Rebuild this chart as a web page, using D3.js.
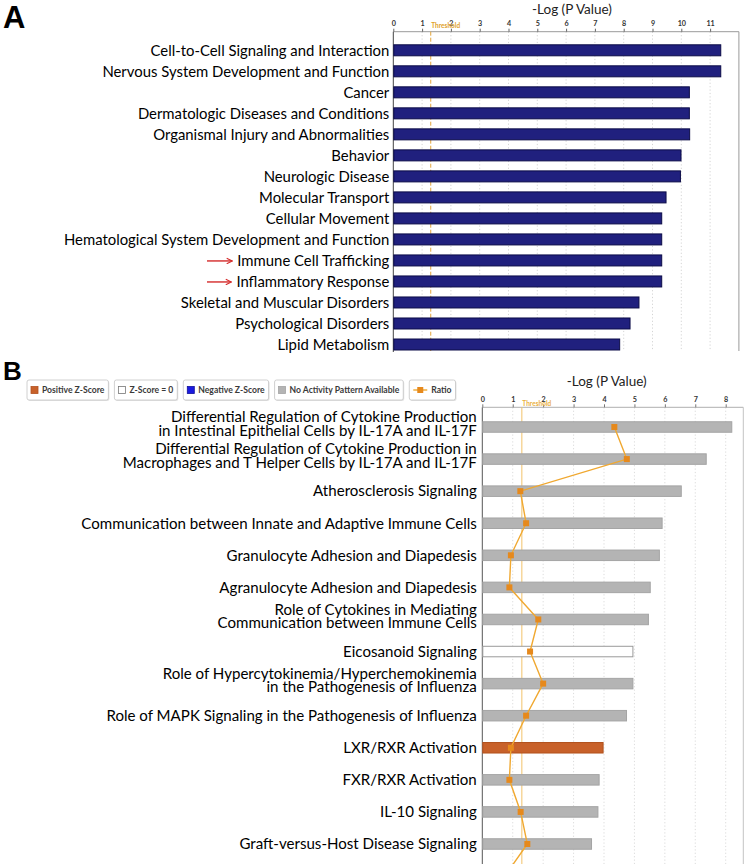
<!DOCTYPE html>
<html><head><meta charset="utf-8">
<script src="https://cdn.jsdelivr.net/npm/d3@7"></script>
<style>body{margin:0;background:#fff}svg{display:block}</style>
</head><body>
<svg id="c" width="747" height="864"></svg>
<script>
// ---------- DATA ----------
const catsA = [
  "Cell-to-Cell Signaling and Interaction",
  "Nervous System Development and Function",
  "Cancer",
  "Dermatologic Diseases and Conditions",
  "Organismal Injury and Abnormalities",
  "Behavior",
  "Neurologic Disease",
  "Molecular Transport",
  "Cellular Movement",
  "Hematological System Development and Function",
  "Immune Cell Trafficking",
  "Inflammatory Response",
  "Skeletal and Muscular Disorders",
  "Psychological Disorders",
  "Lipid Metabolism"
];
const valsA = [11.37, 11.37, 10.28, 10.28, 10.29, 9.99, 9.97, 9.47, 9.32, 9.32, 9.32, 9.32, 8.53, 8.22, 7.86];
const highlightA = ["Immune Cell Trafficking", "Inflammatory Response"];
const ticksA = [0,1,2,3,4,5,6,7,8,9,10,11];

const catsB = [
  ["Differential Regulation of Cytokine Production", "in Intestinal Epithelial Cells by IL-17A and IL-17F"],
  ["Differential Regulation of Cytokine Production in", "Macrophages and T Helper Cells by IL-17A and IL-17F"],
  ["Atherosclerosis Signaling"],
  ["Communication between Innate and Adaptive Immune Cells"],
  ["Granulocyte Adhesion and Diapedesis"],
  ["Agranulocyte Adhesion and Diapedesis"],
  ["Role of Cytokines in Mediating", "Communication between Immune Cells"],
  ["Eicosanoid Signaling"],
  ["Role of Hypercytokinemia/Hyperchemokinemia", "in the Pathogenesis of Influenza"],
  ["Role of MAPK Signaling in the Pathogenesis of Influenza"],
  ["LXR/RXR Activation"],
  ["FXR/RXR Activation"],
  ["IL-10 Signaling"],
  ["Graft-versus-Host Disease Signaling"]
];
const valsB = [8.2, 7.36, 6.54, 5.91, 5.82, 5.52, 5.46, 4.95, 4.95, 4.74, 3.97, 3.84, 3.80, 3.59];
const zB = ["na","na","na","na","na","na","na","zero","na","na","pos","na","na","na"];
// ratio markers, read in units of the -log(p) axis (last one lies below the visible frame)
const ratioB = [4.34, 4.75, 1.25, 1.44, 0.94, 0.89, 1.84, 1.57, 2.0, 1.44, 0.94, 0.89, 1.26, 1.48, 0.74];
const ticksB = [0,1,2,3,4,5,6,7,8];
const threshold = 1.3;
const legendLabels = ["Positive Z-Score", "Z-Score = 0", "Negative Z-Score", "No Activity Pattern Available", "Ratio"];
const legendKinds = ["pos", "zero", "neg", "na", "ratio"];

// ---------- STYLE ----------
const FONT = "Lato, 'Open Sans', sans-serif";
const zFill = {pos:"#c8612a", zero:"#ffffff", neg:"#1a1ae0", na:"#b4b4b4"};
const zStroke = {pos:"#b2521e", zero:"#9a9a9a", neg:"#10109a", na:"#a4a4a4"};

const svg = d3.select("#c");
svg.append("rect").attr("width",747).attr("height",864).attr("fill","#fff");

function fitSize(text, target, weight){
  const t = svg.append("text").attr("font-family",FONT).attr("font-size",20).attr("font-weight",weight||400).text(text);
  const w = t.node().getComputedTextLength(); t.remove();
  return 20*target/w;
}

// panel letters
svg.append("text").attr("x",3).attr("y",28).attr("font-family","'Liberation Sans', Arial, sans-serif")
  .attr("font-weight",700).attr("font-size",31).text("A");
svg.append("text").attr("x",3).attr("y",380).attr("font-family","'Liberation Sans', Arial, sans-serif")
  .attr("font-weight",700).attr("font-size",26).text("B");

// ================= PANEL A =================
const xA = d3.scaleLinear().domain([0,12]).range([393.3,738.9]);
const yA = d3.scalePoint().domain(catsA).range([50.3,344.5]);
const topA = 31.7, botA = 351;
const gA = svg.append("g");

gA.selectAll(".gr").data(ticksA.slice(1)).join("line")
  .attr("x1",d=>xA(d)).attr("x2",d=>xA(d)).attr("y1",topA).attr("y2",botA)
  .attr("stroke","#c9c9c9").attr("stroke-width",0.8).attr("stroke-dasharray","1.2,2.2");
gA.append("line").attr("x1",xA(0)).attr("x2",xA(12)).attr("y1",topA).attr("y2",topA).attr("stroke","#9a9a9a");
gA.append("line").attr("x1",xA(12)).attr("x2",xA(12)).attr("y1",topA).attr("y2",botA).attr("stroke","#9a9a9a");
gA.append("line").attr("x1",xA(0)).attr("x2",xA(0)).attr("y1",topA).attr("y2",botA+1).attr("stroke","#444");
const axA = gA.append("g").attr("transform",`translate(0,${topA})`)
  .call(d3.axisTop(xA).tickValues(ticksA).tickSize(3).tickPadding(3));
axA.select(".domain").remove();
axA.selectAll(".tick line").attr("stroke","#666");
axA.selectAll(".tick text").attr("font-family",FONT).attr("font-size",7.2).attr("font-weight",700).attr("fill","#333");
gA.append("line").attr("x1",xA(threshold)).attr("x2",xA(threshold)).attr("y1",topA).attr("y2",botA)
  .attr("stroke","#e3a53c").attr("stroke-width",1).attr("stroke-dasharray","4,2");
gA.append("text").attr("x",xA(threshold)+0.5).attr("y",28.3).attr("font-family",FONT).attr("font-size",6.5)
  .attr("font-weight",700).attr("fill","#e0a02a").text("Threshold");
gA.append("text").attr("x",572).attr("y",9).attr("dy","0.35em").attr("text-anchor","middle")
  .attr("font-family",FONT).attr("font-size",13.5).attr("fill","#222").text("-Log (P Value)");
const bhA = 11;
gA.selectAll(".barA").data(catsA).join("rect")
  .attr("x",xA(0)+0.5).attr("y",d=>yA(d)-bhA/2)
  .attr("width",(d,i)=>xA(valsA[i])-xA(0)-0.5).attr("height",bhA)
  .attr("fill","#20207e").attr("stroke","#0c0c48").attr("stroke-width",1);
const fsA = fitSize(catsA[1], 287);
const labA = gA.selectAll(".labA").data(catsA).join("text")
  .attr("x",xA(0)-4).attr("y",d=>yA(d)).attr("dy","0.35em").attr("text-anchor","end")
  .attr("font-family",FONT).attr("font-size",fsA).attr("fill","#000").text(d=>d);
svg.append("defs").append("marker").attr("id","ah").attr("viewBox","0 0 10 10").attr("refX",9).attr("refY",5)
  .attr("markerWidth",7).attr("markerHeight",7).attr("markerUnits","userSpaceOnUse").attr("orient","auto")
  .append("path").attr("d","M1,1 L9,5 L1,9").attr("fill","none").attr("stroke","#d42a2a").attr("stroke-width",1.6);
labA.filter(d=>highlightA.includes(d)).each(function(d){
  const bb = this.getBBox();
  const tip = bb.x - 5;
  gA.append("line").attr("x1",207).attr("x2",tip).attr("y1",yA(d)+0.5).attr("y2",yA(d)+0.5)
    .attr("stroke","#d42a2a").attr("stroke-width",1.4).attr("marker-end","url(#ah)");
});

// ================= PANEL B =================
const xB = d3.scaleLinear().domain([0,8]).range([482.3,725.7]);
const yB = d3.scaleLinear().domain([0,13]).range([427,844]);
const topB = 407.3, botB = 864, rightB = 743.3;
const gB = svg.append("g");

gB.selectAll(".grb").data(ticksB.slice(1)).join("line")
  .attr("x1",d=>xB(d)).attr("x2",d=>xB(d)).attr("y1",topB).attr("y2",botB)
  .attr("stroke","#d2d2d2").attr("stroke-width",0.8).attr("stroke-dasharray","1.2,2.2");
gB.append("line").attr("x1",xB(0)).attr("x2",rightB).attr("y1",topB).attr("y2",topB).attr("stroke","#b0b0b0");
gB.append("line").attr("x1",rightB).attr("x2",rightB).attr("y1",topB).attr("y2",botB).attr("stroke","#c4c4c4");
gB.append("line").attr("x1",xB(0)).attr("x2",xB(0)).attr("y1",topB).attr("y2",botB).attr("stroke","#555");
const axB = gB.append("g").attr("transform",`translate(0,${topB})`)
  .call(d3.axisTop(xB).tickValues(ticksB).tickSize(3).tickPadding(2.5));
axB.select(".domain").remove();
axB.selectAll(".tick line").attr("stroke","#777");
axB.selectAll(".tick text").attr("font-family",FONT).attr("font-size",7.2).attr("font-weight",700).attr("fill","#333");
gB.append("line").attr("x1",xB(threshold)).attr("x2",xB(threshold)).attr("y1",topB).attr("y2",botB)
  .attr("stroke","#f2c36a").attr("stroke-width",1);
gB.append("text").attr("x",xB(threshold)+0.5).attr("y",405.6).attr("font-family",FONT).attr("font-size",6.5)
  .attr("font-weight",700).attr("fill","#eab040").text("Threshold");
gB.append("text").attr("x",606.7).attr("y",381.7).attr("dy","0.35em").attr("text-anchor","middle")
  .attr("font-family",FONT).attr("font-size",13.5).attr("fill","#222").text("-Log (P Value)");

const bhB = 10.5;
gB.selectAll(".barB").data(valsB).join("rect")
  .attr("x",xB(0)+0.5).attr("y",(d,i)=>yB(i)-bhB/2)
  .attr("width",d=>xB(d)-xB(0)-0.5).attr("height",bhB)
  .attr("fill",(d,i)=>zFill[zB[i]]).attr("stroke",(d,i)=>zStroke[zB[i]]).attr("stroke-width",1);

const line = d3.line().x(d=>xB(d)).y((d,i)=>yB(i));
gB.append("path").datum(ratioB).attr("d",line).attr("fill","none").attr("stroke","#f0a830").attr("stroke-width",1.4);
gB.selectAll(".rm").data(ratioB).join("rect")
  .attr("x",d=>xB(d)-3).attr("y",(d,i)=>yB(i)-3).attr("width",6).attr("height",6).attr("fill","#e6891c");

const fsB = fitSize(catsB[3][0], 396);
catsB.forEach((lines,i)=>{
  const offs = lines.length===1 ? [0] : [-10, 3.5];
  lines.forEach((s,k)=>{
    gB.append("text").attr("x",xB(0)-5.5).attr("y",yB(i)+offs[k]).attr("dy","0.35em").attr("text-anchor","end")
      .attr("font-family",FONT).attr("font-size",fsB).attr("fill","#000").text(s);
  });
});

// legend
const gL = svg.append("g");
let lx = 27;
const ly = 380, lh = 20;
legendLabels.forEach((lab,i)=>{
  const kind = legendKinds[i];
  const sw = kind==="ratio" ? 14 : 7;
  const g = gL.append("g");
  const t = g.append("text").attr("x",lx+4+sw+4).attr("y",ly+lh/2).attr("dy","0.35em")
    .attr("font-family",FONT).attr("font-size",8.6).attr("font-weight",700).attr("fill","#3a3a3a").text(lab);
  const tw = t.node().getComputedTextLength();
  const bw = 4+sw+4+tw+4;
  g.insert("rect","text").attr("x",lx+1).attr("y",ly+1).attr("width",bw).attr("height",lh).attr("fill","#e4e4e4").attr("rx",2);
  g.insert("rect","text").attr("x",lx).attr("y",ly).attr("width",bw).attr("height",lh).attr("fill","#fff")
    .attr("stroke","#c4c4c4").attr("stroke-width",0.8).attr("rx",2);
  if(kind==="ratio"){
    g.append("line").attr("x1",lx+4).attr("x2",lx+4+sw).attr("y1",ly+lh/2).attr("y2",ly+lh/2).attr("stroke","#f0a830").attr("stroke-width",1.4);
    g.append("rect").attr("x",lx+4+sw/2-3).attr("y",ly+lh/2-3).attr("width",6).attr("height",6).attr("fill","#e6891c");
  } else {
    g.append("rect").attr("x",lx+4).attr("y",ly+lh/2-3.5).attr("width",7).attr("height",7)
      .attr("fill",zFill[kind]).attr("stroke",kind==="zero"?"#777":zStroke[kind]).attr("stroke-width",0.8);
  }
  lx += bw + 6;
});
</script>
</body></html>
